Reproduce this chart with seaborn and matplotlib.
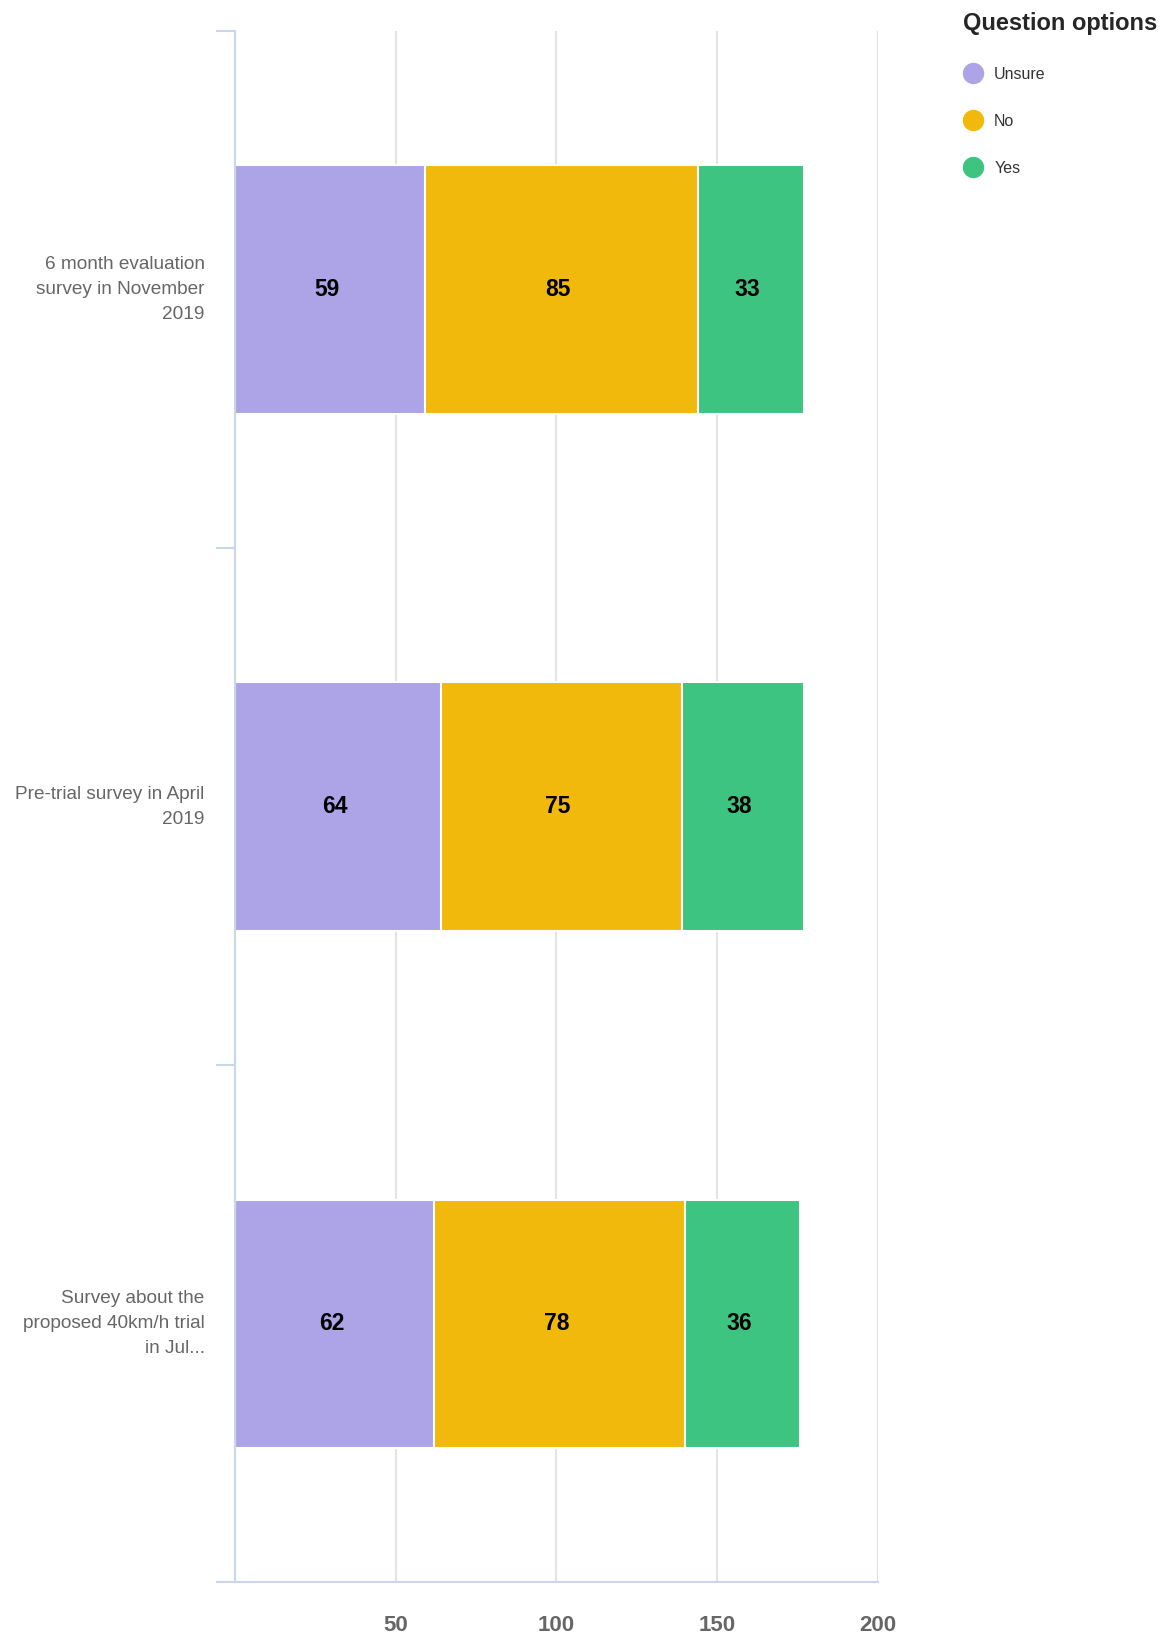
import numpy as np
import pandas as pd
import matplotlib.pyplot as plt
import seaborn as sns
from matplotlib.lines import Line2D

categories = ['6 month evaluation\nsurvey in November\n2019',
              'Pre-trial survey in April\n2019',
              'Survey about the\nproposed 40km/h trial\nin Jul...']
options = ['Unsure', 'No', 'Yes']
unsure = [59, 64, 62]
no = [85, 75, 78]
yes = [33, 38, 36]
x_ticks = [50, 100, 150, 200]

colors = {'Unsure': '#aca4e6', 'No': '#f2b90d', 'Yes': '#3ec481'}
axis_col = '#ccd6eb'
grid_col = '#e3e3e3'
label_col = '#666666'

sns.set_theme(style='white')
plt.rcParams['font.family'] = ['Liberation Sans', 'DejaVu Sans']

df = pd.DataFrame({'survey': categories, 'Unsure': unsure, 'No': no, 'Yes': yes})
cum = df[options].cumsum(axis=1)

fig = plt.figure(figsize=(11.67, 16.37), dpi=100)
ax = fig.add_axes([0.2015, 0.0335, 0.5505, 0.9476])

# stack by layering the cumulative totals, widest first
for opt in reversed(options):
    sns.barplot(x=cum[opt], y=df['survey'], orient='h', color=colors[opt],
                saturation=1, width=0.48, edgecolor='white', linewidth=1.5,
                errorbar=None, ax=ax, zorder=2)

for i, row in df.iterrows():
    left = 0
    for opt in options:
        v = row[opt]
        ax.text(left + v / 2 - 1, i, str(v), ha='center', va='center',
                fontsize=16.5, fontweight='bold', color='black', zorder=3)
        left += v

ax.set_xlim(0, 200)
ax.set_ylim(len(categories) - 0.5, -0.5)
ax.set_xticks(x_ticks)
ax.set_xticklabels([str(t) for t in x_ticks])
ax.set_xlabel('')
ax.set_ylabel('')
ax.grid(axis='x', color=grid_col, linewidth=1.5)
ax.set_axisbelow(True)

ax.set_yticks(np.arange(len(categories)))
ax.set_yticks(np.arange(len(categories) + 1) - 0.5, minor=True)
ax.tick_params(axis='y', which='major', length=0, pad=22, labelsize=13.7,
               labelcolor=label_col)
ax.tick_params(axis='y', which='minor', length=13.5, width=1.5, color=axis_col,
               left=True)
ax.tick_params(axis='x', length=0, pad=24, labelsize=16, labelcolor=label_col)
for lbl in ax.get_xticklabels():
    lbl.set_fontweight('bold')
for lbl in ax.get_yticklabels():
    lbl.set_linespacing(1.62)
    lbl.set_verticalalignment('center')

for side in ['top', 'right']:
    ax.spines[side].set_visible(False)
for side in ['left', 'bottom']:
    ax.spines[side].set_color(axis_col)
    ax.spines[side].set_linewidth(1.5)

handles = [Line2D([], [], marker='o', linestyle='', markersize=14.4,
                  markerfacecolor=colors[o], markeredgecolor=colors[o])
           for o in options]
fig.legend(handles, options, loc='upper left', bbox_to_anchor=(963 / 1167, 1 - 12 / 1637),
           frameon=False, title='Question options', alignment='left',
           title_fontproperties={'weight': 'bold', 'size': 17},
           fontsize=11.5, labelcolor='#333333', handlelength=1.25,
           handletextpad=0.7, labelspacing=2.0, borderpad=0, borderaxespad=0)

plt.savefig('out.png', dpi=100)
